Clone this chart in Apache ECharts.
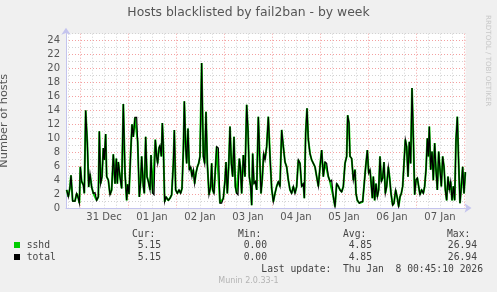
<!DOCTYPE html>
<html>
<head>
<meta charset="utf-8">
<script src="https://cdn.jsdelivr.net/npm/echarts@6/dist/echarts.min.js"></script>
<style>
html,body{margin:0;padding:0;background:#f0f0f0;}
#c{width:497px;height:292px;}
</style>
</head>
<body>
<div id="c"></div>
<script>
// ---- data (hours relative to 31 Dec 00:00) ----
const hours = [
-6.67,-5.83,-5,-4.5,-3.67,-2.5,-1.67,-0.83,-0.33,0.17,0.83,1.67,2.17,2.83,3.67,4.33,5,5.83,6.67,7.5,8.33,9.17,9.67,10.33,11,11.67,12.17,12.83,13.33,14.17,15,15.83,16.67,17.5,18.17,18.67,19.17,20,20.83,21.67,22.5,23.33,23.83,24.5,25.33,26,26.67,27.5,28.33,28.83,29.67,30.33,30.83,31.67,32.17,32.83,33.5,34.17,35,35.5,36.33,37,37.67,38.33,38.83,39.5,40,40.67,41.17,41.67,42.33,43,44.17,45,
45.83,46.67,47.17,47.83,48.67,49.5,50.33,51,51.67,52.17,52.83,53.33,54,54.67,55.33,56,56.67,57.33,58,58.67,59.33,60,60.83,61.67,62.33,63,63.67,64.5,65.33,65.83,66.33,67,67.67,68.33,69.17,70,70.83,71.67,72.5,73,73.67,74.33,75,75.67,76.33,77,77.67,78.33,79,79.67,80.17,80.83,81.67,82.5,83.33,84,84.67,85.33,85.83,86.33,87,87.67,88.33,89.17,89.83,90.5,91.17,91.83,92.5,93.33,94.17,95,95.83,96.67,97.5,98.33,99.17,100,100.83,101.67,102.5,103.33,104.17,105,105.83,106.67,107.5,108.33,109.17,110,110.83,111.67,112.17,112.83,113.5,114.17,115,115.83,116.67,117.5,118.33,119.17,120,120.83,121.67,122.5,123.33,124.17,125,
125.83,126.67,127.5,128.33,129.17,130,130.83,131.67,132.5,133.33,133.83,134.5,135,135.83,136.67,137.5,138,138.67,139.67,140.5,141.33,142,142.83,143.67,144.33,145,145.5,146.17,146.67,147.33,148,148.67,149.33,150,150.67,151.33,152,152.67,153.33,154.17,154.83,155.5,156.33,157,157.83,158.67,159.33,160,160.67,161.33,162,162.67,163.33,164,164.67,165.33,166,166.67,167.33,168,168.67,169.33,170,170.83,171.67,172.33,173,173.67,174.17,174.67,175.33,176,176.67,177.33,178,178.67,179.33,180,180.67,181.33,182,182.67,183.33,184,184.67,185.33,186,186.67,187.33,188,188.67,189.33,190,190.67,191.33,192,192.67
];
const sshd = [
2.6,1.6,3,4.7,1.0,1.0,2.1,1.4,0.7,5.9,3.8,3.3,2.1,14,9.3,3,4.9,3,2.1,2.2,1.1,1.6,11,3.5,4.5,8.6,6.9,10.6,4.5,4,1.9,2.6,7.7,3.5,7.1,3.5,6.6,4.5,2.8,14.9,5,1.1,3.4,2,7.8,12,10.2,13,13,9.5,1.6,3.8,7.4,3.1,2.1,10.2,4.5,3.8,2.6,7.6,2.1,1.9,9.8,7.4,6.4,8.6,9,7.4,12.2,8.8,0.9,1.6,1.1,1.4,
1.9,6.4,11.2,2.6,2.1,2.6,2.1,2.8,8.3,15.3,8.8,6.4,11.4,5.5,5.9,4.5,5.5,3.5,5,5.9,6.4,7.4,20.8,7.4,6.4,13.8,6.4,1.9,3.1,6.4,2.6,2.1,5.5,8.8,8.6,0.7,0.7,1.4,4,6.6,2.1,5.9,11.7,6.4,4.5,10.2,3.1,2.1,1.9,7.1,5.9,2.1,7.6,4.5,14.8,11.2,4.5,3.1,0.4,7.8,3.5,3.8,2.6,13.1,7.4,2.1,4.3,7.8,6.9,8.8,13.1,7.4,2.8,0.9,2.1,3.1,3.8,3.1,11.2,8.8,6.6,5.9,4,2.6,2.1,3.1,2.1,3.1,6.9,6.4,3.1,3.5,1.4,10.7,14.3,9.8,7.8,6.9,6.4,5.9,4.5,3.1,5.9,8.3,4.5,6.6,6.4,4.5,3.8,
4,1.6,0.2,3.5,3.1,2.6,2.3,3.1,6.4,7.4,13.3,12.2,7.4,7.1,4,5.5,2.1,1.1,0.7,0.9,0.9,3.1,5.9,8.3,5,5.5,3.8,1.4,4.5,1.1,3.5,1.6,2.6,7.4,3.8,4.3,6.6,2.1,3.1,5.9,4.3,2.1,0.4,0.7,2.6,1.4,0.2,1.6,2.1,3.1,6.4,9.8,8.8,4.5,9.5,6.4,17.2,10.2,1.9,4,4.3,3.1,1.9,2.6,2.1,3.1,5.5,10,7.4,11.7,5.5,8.1,4,9.3,5.5,2.6,8.1,5.5,3.1,7.4,5.9,2.6,1.1,4.5,2.6,3.8,1.1,3.1,1.1,9.8,13.1,6.4,0.7,3.1,5.9,2.1,5.15
];
const total = sshd; // identical to sshd in the source graph
const dayLabels = ['31 Dec','01 Jan','02 Jan','03 Jan','04 Jan','05 Jan','06 Jan','07 Jan'];
const yTickLabels = [0,2,4,6,8,10,12,14,16,18,20,22,24];
const statHeaders = ['Cur:','Min:','Avg:','Max:'];
const statsSshd = ['5.15','0.00','4.85','26.94'];
const statsTotal = ['5.15','0.00','4.85','26.94'];
const seriesNames = ['sshd','total'];
const titleText = 'Hosts blacklisted by fail2ban - by week';
const yName = 'Number of hosts';
const lastUpdate = 'Last update:  Thu Jan  8 00:45:10 2026';
const footer = 'Munin 2.0.33-1';
const sideText = 'RRDTOOL / TOBI OETIKER';

// ---- build ----
const xMin = -7, xMax = 192.75, yMax = 25, step = 0.25;
const GRAY = '#d2d2d2', RED = '#f4a0a0';
// hidden quarter-hour category axis used only to place the 6-hour grid lines
const gridCats = [];
for (let i = 0; i <= Math.round((xMax - xMin) / step); i++) gridCats.push(String(i));
const gridHourOf = i => xMin + i * step;

const sshdData = hours.map((h, i) => [h, sshd[i]]);
const totalData = hours.map((h, i) => [h, total[i]]);

const mono = '"DejaVu Sans Mono", monospace';
const sans = '"DejaVu Sans", sans-serif';
const txtColor = '#444';
const graphic = [];
graphic.push({type: 'text', x: 248.5, y: 13, style: {text: titleText, font: '12.4px ' + sans, fill: '#555', align: 'center', verticalAlign: 'middle'}});
graphic.push({type: 'text', x: 488, y: 15, rotation: -Math.PI / 2, style: {text: sideText, font: '7.1px ' + sans, fill: '#c8c8c8', align: 'left', verticalAlign: 'middle'}});
const headX = [132, 238, 343, 447];
const valX = [161, 267, 372, 477];
statHeaders.forEach((t, i) => graphic.push({type: 'text', x: headX[i], y: 234, style: {text: t, font: '9.7px ' + mono, fill: txtColor, align: 'left', verticalAlign: 'middle'}}));
[statsSshd, statsTotal].forEach((row, r) => {
  const y = 245.5 + r * 12;
  graphic.push({type: 'rect', shape: {x: 14, y: y - 3.5, width: 6, height: 6}, style: {fill: r === 0 ? '#00cc00' : '#000000'}});
  graphic.push({type: 'text', x: 26.7, y: y, style: {text: seriesNames[r], font: '9.7px ' + mono, fill: txtColor, align: 'left', verticalAlign: 'middle'}});
  row.forEach((t, i) => graphic.push({type: 'text', x: valX[i], y: y, style: {text: t, font: '9.7px ' + mono, fill: txtColor, align: 'right', verticalAlign: 'middle'}}));
});
graphic.push({type: 'text', x: 483, y: 269.5, style: {text: lastUpdate, font: '9.7px ' + mono, fill: txtColor, align: 'right', verticalAlign: 'middle'}});
graphic.push({type: 'text', x: 248.5, y: 281, style: {text: footer, font: '8px ' + sans, fill: '#b4b4b4', align: 'center', verticalAlign: 'middle'}});

const axisCol = '#c4c4ee';
const chart = echarts.init(document.getElementById('c'), null, {renderer: 'canvas'});
chart.setOption({
  backgroundColor: '#f0f0f0',
  animation: false,
  grid: {left: 66, top: 33.7, width: 399.5, height: 174.3, show: true, backgroundColor: '#ffffff', borderWidth: 0,
         containLabel: false, outerBoundsMode: 'none'},
  xAxis: [{
    type: 'value', min: xMin, max: xMax,
    splitLine: {show: false},
    axisLine: {show: true, onZero: false, lineStyle: {color: axisCol, width: 1}, symbol: ['none', 'arrow'], symbolSize: [7, 7], symbolOffset: [0, 6]},
    axisTick: {show: false},
    axisLabel: {
      customValues: dayLabels.map((d, i) => 12 + 24 * i),
      formatter: v => dayLabels[Math.round((v - 12) / 24)] || '',
      color: '#555', fontSize: 10, fontFamily: sans, margin: 4
    }
  }, {
    type: 'category', data: gridCats, boundaryGap: false, position: 'bottom',
    axisLine: {show: false}, axisTick: {show: false}, axisLabel: {show: false},
    splitLine: {
      show: true,
      interval: i => { const h = gridHourOf(i); return h > xMin && Math.abs(h % 6) < 1e-9; },
      lineStyle: {color: [GRAY, RED, GRAY, GRAY], type: [1, 2], width: 1}
    }
  }],
  yAxis: {
    type: 'value', min: 0, max: yMax, interval: 1,
    name: yName, nameLocation: 'middle', nameGap: 56, nameRotate: 90,
    nameTextStyle: {color: '#555', fontSize: 11.3, fontFamily: sans},
    splitLine: {show: true, lineStyle: {color: [RED, GRAY], type: [1, 2], width: 1}},
    axisLine: {show: true, onZero: false, lineStyle: {color: axisCol, width: 1}, symbol: ['none', 'arrow'], symbolSize: [7, 7], symbolOffset: [0, 6]},
    axisTick: {show: false},
    axisLabel: {
      formatter: v => yTickLabels.indexOf(v) >= 0 ? String(v) : '',
      color: '#555', fontSize: 10, fontFamily: sans, margin: 6
    }
  },
  graphic: graphic,
  series: [
    {type: 'line', name: 'sshd', data: sshdData, xAxisIndex: 0, z: 5, showSymbol: false, symbol: 'none', silent: true,
     smooth: false, emphasis: {disabled: true},
     itemStyle: {color: '#00cc00'}, lineStyle: {color: '#00cc00', width: 2, type: 'solid', opacity: 1}},
    {type: 'lines', name: 'total', coordinateSystem: 'cartesian2d', xAxisIndex: 0, yAxisIndex: 0,
     polyline: true, z: 10, silent: true, animation: false,
     data: [{coords: totalData}],
     lineStyle: {color: '#000000', width: 1.2, type: 'solid', opacity: 1, curveness: 0}}
  ]
});
</script>
</body>
</html>
